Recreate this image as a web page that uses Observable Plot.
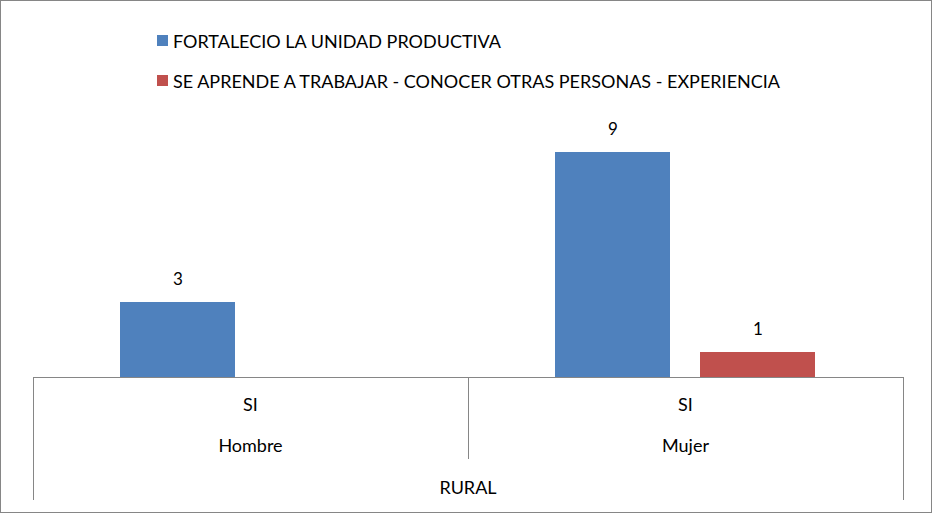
<!DOCTYPE html>
<html>
<head>
<meta charset="utf-8">
<script src="https://cdn.jsdelivr.net/npm/d3@7"></script>
<script src="https://cdn.jsdelivr.net/npm/@observablehq/plot@0.6"></script>
<style>
  html, body { margin: 0; padding: 0; background: #fff; }
  svg { display: block; }
</style>
</head>
<body>
<div id="chart"></div>
<script>
// ---- data ----
const sexos = ["Hombre", "Mujer"];
const respuesta = "SI";
const zona = "RURAL";
const seriesNames = [
  "FORTALECIO LA UNIDAD PRODUCTIVA",
  "SE APRENDE A TRABAJAR - CONOCER OTRAS PERSONAS - EXPERIENCIA"
];
const fortalecio = [3, 9];
const seAprende = [null, 1];
const seriesColors = ["#4F81BD", "#C0504D"];

const seriesValues = [fortalecio, seAprende];
const table = [];
seriesNames.forEach((s, si) => {
  sexos.forEach((g, gi) => {
    const v = seriesValues[si][gi];
    if (v != null) table.push({sexo: g, serie: s, value: v});
  });
});

const font = "Lato, 'Open Sans', sans-serif";
const W = 933, H = 514;

const plot = Plot.plot({
  width: W,
  height: H,
  marginTop: 127,
  marginBottom: 137,
  marginLeft: 33,
  marginRight: 30,
  style: {fontFamily: font, fontSize: "17px", color: "#000", background: "#fff"},
  fx: {domain: sexos, padding: 0, axis: null},
  x: {domain: seriesNames, paddingInner: 0.2055, paddingOuter: 0.5925, axis: null},
  y: {domain: [0, 10], axis: null},
  color: {domain: seriesNames, range: seriesColors},
  marks: [
    Plot.barY(table, {fx: "sexo", x: "serie", y: "value", fill: "serie"}),
    Plot.text(table, {fx: "sexo", x: "serie", y: "value", text: d => String(d.value),
      dy: -23, fill: "#000", fontSize: 17}),
    Plot.ruleY([0], {stroke: "#868686", strokeWidth: 1})
  ]
});

document.getElementById("chart").appendChild(plot);

// ---- decorations drawn from the library's scales ----
const svg = d3.select(plot);
const fx = plot.scale("fx");
const y = plot.scale("y");
const color = plot.scale("color");
const y0 = y.apply(0);
const [xL, xR] = fx.range;
const axisGray = "#868686";

// outer border
svg.append("rect")
  .attr("x", 0.5).attr("y", 0.5)
  .attr("width", W - 2).attr("height", H - 2)
  .attr("fill", "none").attr("stroke", axisGray);

// category axis separators
const g = svg.append("g").attr("stroke", axisGray).attr("stroke-width", 1);
[xL, xR].forEach(x => {
  g.append("line").attr("x1", Math.round(x) + 0.5).attr("x2", Math.round(x) + 0.5)
    .attr("y1", y0).attr("y2", y0 + 123);
});
sexos.slice(1).forEach(s => {
  const x = fx.apply(s);
  g.append("line").attr("x1", Math.round(x) + 0.5).attr("x2", Math.round(x) + 0.5)
    .attr("y1", y0).attr("y2", y0 + 82);
});

// level labels
const tg = svg.append("g").attr("font-family", font).attr("font-size", 18)
  .attr("fill", "#000").attr("text-anchor", "middle").attr("dominant-baseline", "central");
sexos.forEach(s => {
  const cx = fx.apply(s) + fx.bandwidth / 2;
  tg.append("text").attr("x", cx).attr("y", y0 + 27).text(respuesta);
  tg.append("text").attr("x", cx).attr("y", y0 + 68).text(s);
});
tg.append("text").attr("x", (xL + xR) / 2).attr("y", y0 + 110).text(zona);

// legend
const lg = svg.append("g").attr("font-family", font).attr("font-size", 18)
  .attr("fill", "#000").attr("text-anchor", "start");
seriesNames.forEach((s, i) => {
  const cy = 40 + i * 40;
  lg.append("rect").attr("x", 157).attr("y", cy - 5).attr("width", 11).attr("height", 11)
    .attr("fill", color.apply(s));
  lg.append("text").attr("x", 173).attr("y", cy + 1).attr("dominant-baseline", "central")
    .attr("text-anchor", "start").text(s);
});
</script>
</body>
</html>
